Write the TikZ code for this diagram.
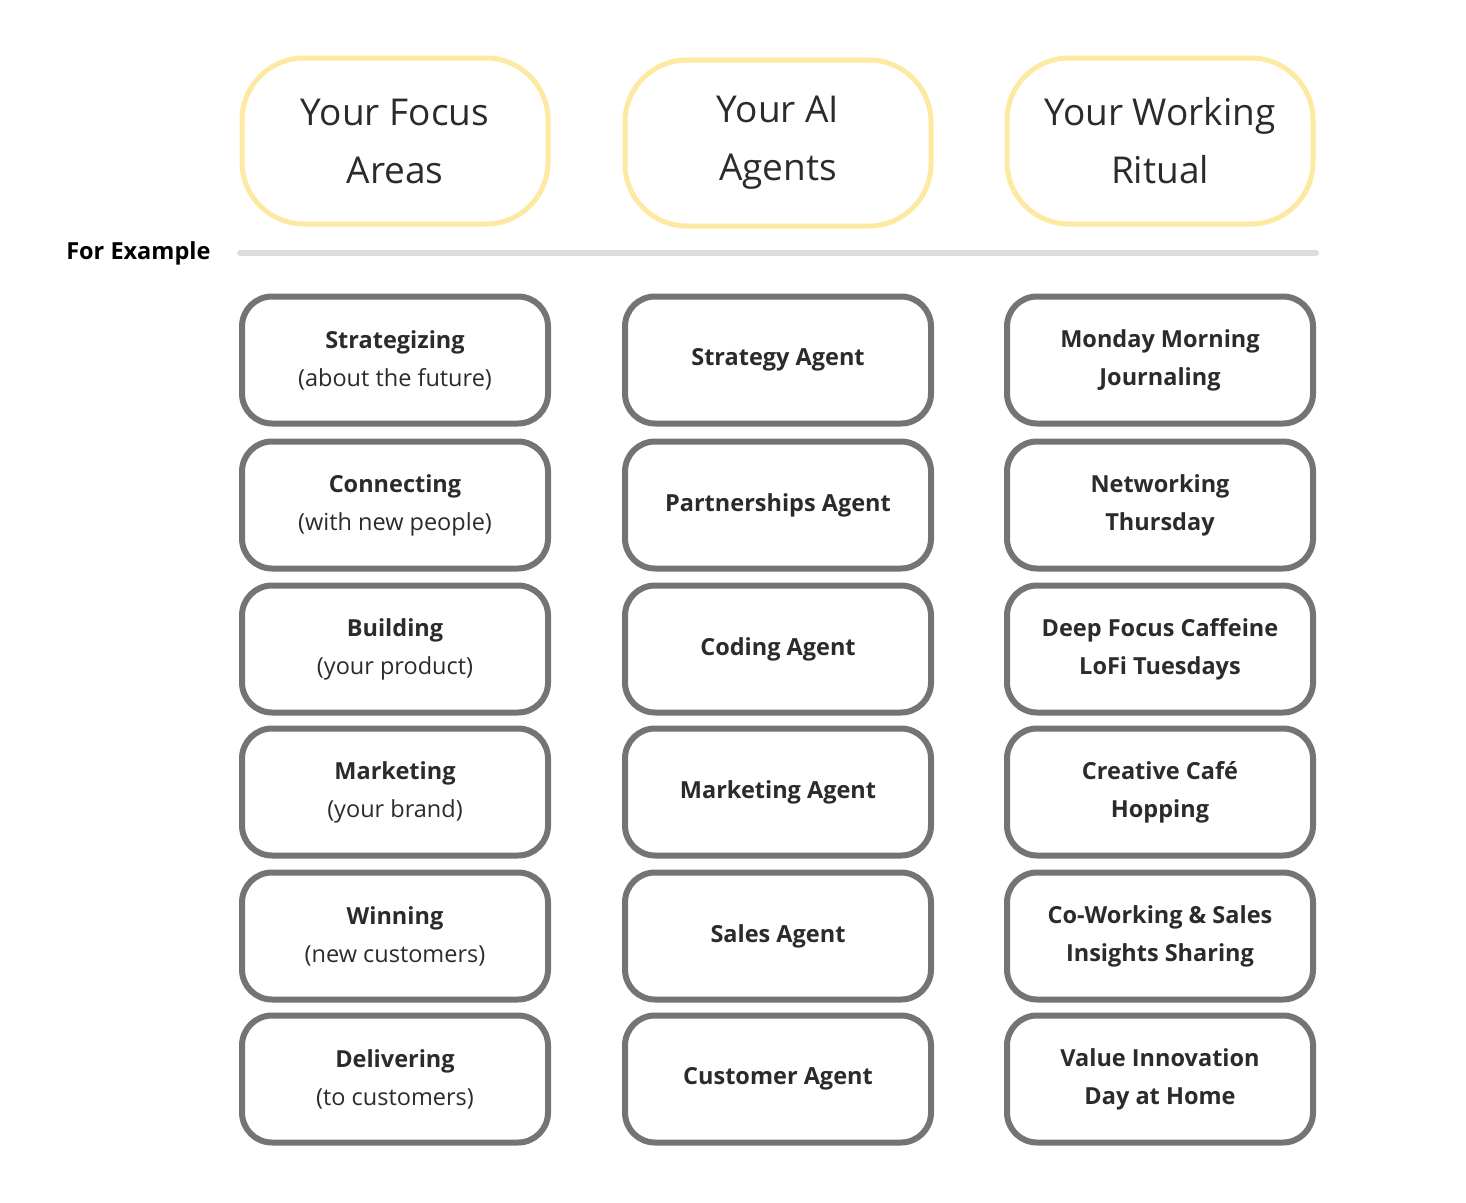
\documentclass[tikz,border=0pt]{standalone}
\usepackage{fontspec}
\setmainfont{Open Sans}
\definecolor{yel}{HTML}{FDE9A2}
\definecolor{bgray}{HTML}{747474}
\definecolor{txt}{HTML}{2B2B2B}
\definecolor{lgray}{HTML}{DDDDDD}
\begin{document}
\begin{tikzpicture}[x=1pt,y=-1pt,
  head/.style={draw=yel,line width=5pt,rounded corners=62pt,minimum width=306pt,minimum height=166pt,align=center,text=txt,font=\fontsize{37}{58}\selectfont},
  cell/.style={draw=bgray,line width=6pt,rounded corners=30pt,minimum width=306pt,minimum height=127pt,align=center,text=txt,font=\fontsize{23.5}{38}\selectfont}]
\useasboundingbox (0,0) rectangle (1466,1202);
\node[head] (h1) at (395,141) {Your Focus\\Areas};
\node[head] (h2) at (778,143) {Your AI\\Agents};
\node[head] (h3) at (1160,141) {Your Working\\Ritual};
\coordinate (l1) at (240,253); \coordinate (l2) at (1316,253);
\draw[lgray,line width=6pt,line cap=round] (l1) -- (l2);
\node[anchor=east,text=black,font=\fontsize{23.5}{28}\selectfont\bfseries] (fe) at (214,253) {For Example};
\foreach \y/\a/\b/\c/\d/\e/\f [count=\i] in {
 360/Strategizing/(about the future)/Strategy Agent/Monday Morning/Journaling,
 505/Connecting/(with new people)/Partnerships Agent/Networking/Thursday,
 649/Building/(your product)/Coding Agent/Deep Focus Caffeine/LoFi Tuesdays,
 792/Marketing/(your brand)/Marketing Agent/Creative Café/Hopping,
 936/Winning/(new customers)/Sales Agent/Co-Working \& Sales/Insights Sharing,
 1079/Delivering/(to customers)/Customer Agent/Value Innovation/Day at Home}{
 \node[cell] (a\i) at (395,\y) {\textbf{\a}\\\b};
 \node[cell] (b\i) at (778,\y) {\textbf{\c}};
 \node[cell] (c\i) at (1160,\y) {\textbf{\d}\\\textbf{\e}};
}
\end{tikzpicture}
\end{document}
